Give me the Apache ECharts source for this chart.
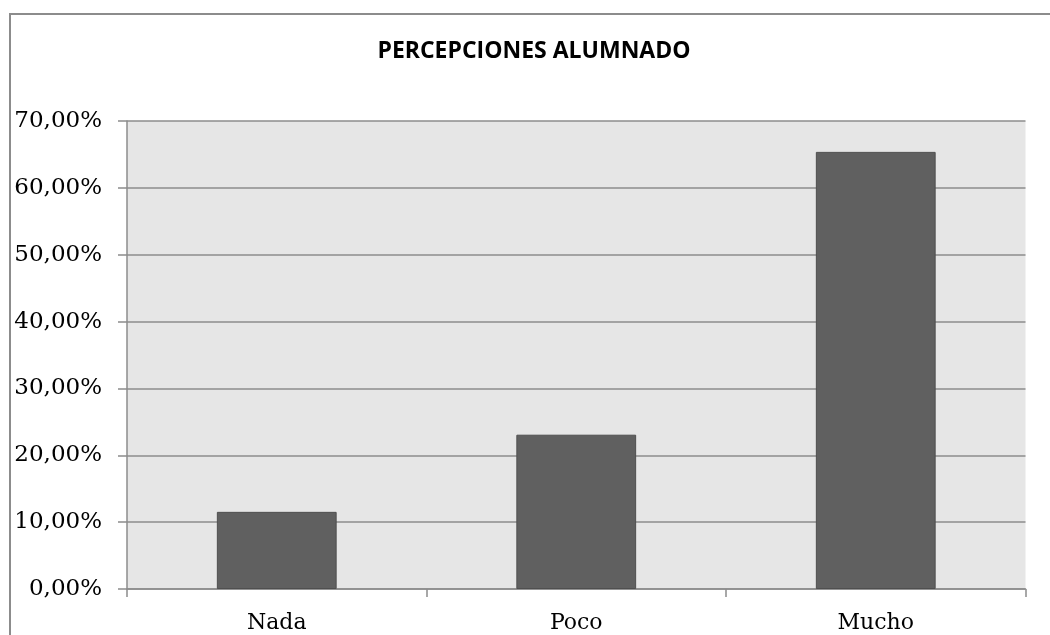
<!DOCTYPE html>
<html>
<head>
<meta charset="utf-8">
<script src="https://cdn.jsdelivr.net/npm/echarts@6/dist/echarts.min.js"></script>
<style>html,body{margin:0;padding:0;background:#fff}#c{width:1050px;height:635px}</style>
</head>
<body>
<div id="c"></div>
<script>
const title = 'PERCEPCIONES ALUMNADO';
const categories = ['Nada', 'Poco', 'Mucho'];
const values = [11.54, 23.08, 65.38];
const yMin = 0, yMax = 70, yStep = 10;

const chart = echarts.init(document.getElementById('c'), null, {renderer: 'canvas'});
const grey = '#8c8c8c';
chart.setOption({
  animation: false,
  backgroundColor: '#ffffff',
  title: {
    text: title,
    left: 529, top: 35, textAlign: 'center',
    textStyle: {fontFamily: 'Open Sans', fontWeight: 'bold', fontSize: 23, color: '#000'}
  },
  graphic: [{
    type: 'rect', shape: {x: 10, y: 14, width: 1100, height: 700},
    style: {fill: 'none', stroke: grey, lineWidth: 2}, silent: true
  }],
  grid: {left: 127, right: 24.5, top: 121, bottom: 46, show: true, backgroundColor: '#e6e6e6', borderWidth: 0},
  xAxis: {
    type: 'category', data: categories,
    axisLine: {lineStyle: {color: grey, width: 1.5}},
    axisTick: {show: true, alignWithLabel: false, length: 8, lineStyle: {color: grey, width: 1.5}},
    axisLabel: {margin: 23, fontFamily: 'DejaVu Serif', fontSize: 22, color: '#000'}
  },
  yAxis: {
    type: 'value', min: yMin, max: yMax, interval: yStep,
    axisLine: {show: true, lineStyle: {color: grey, width: 1.5}},
    axisTick: {show: true, length: 9, lineStyle: {color: grey, width: 1.5}},
    splitLine: {lineStyle: {color: grey, width: 1.5}},
    axisLabel: {
      margin: 25, fontFamily: 'DejaVu Serif', fontSize: 23, color: '#000',
      formatter: v => v.toFixed(2).replace('.', ',') + '%'
    }
  },
  series: [{
    type: 'bar', data: values, barWidth: '40%',
    itemStyle: {color: '#606060', borderColor: '#4f4f4f', borderWidth: 1}
  }]
});
</script>
</body>
</html>
